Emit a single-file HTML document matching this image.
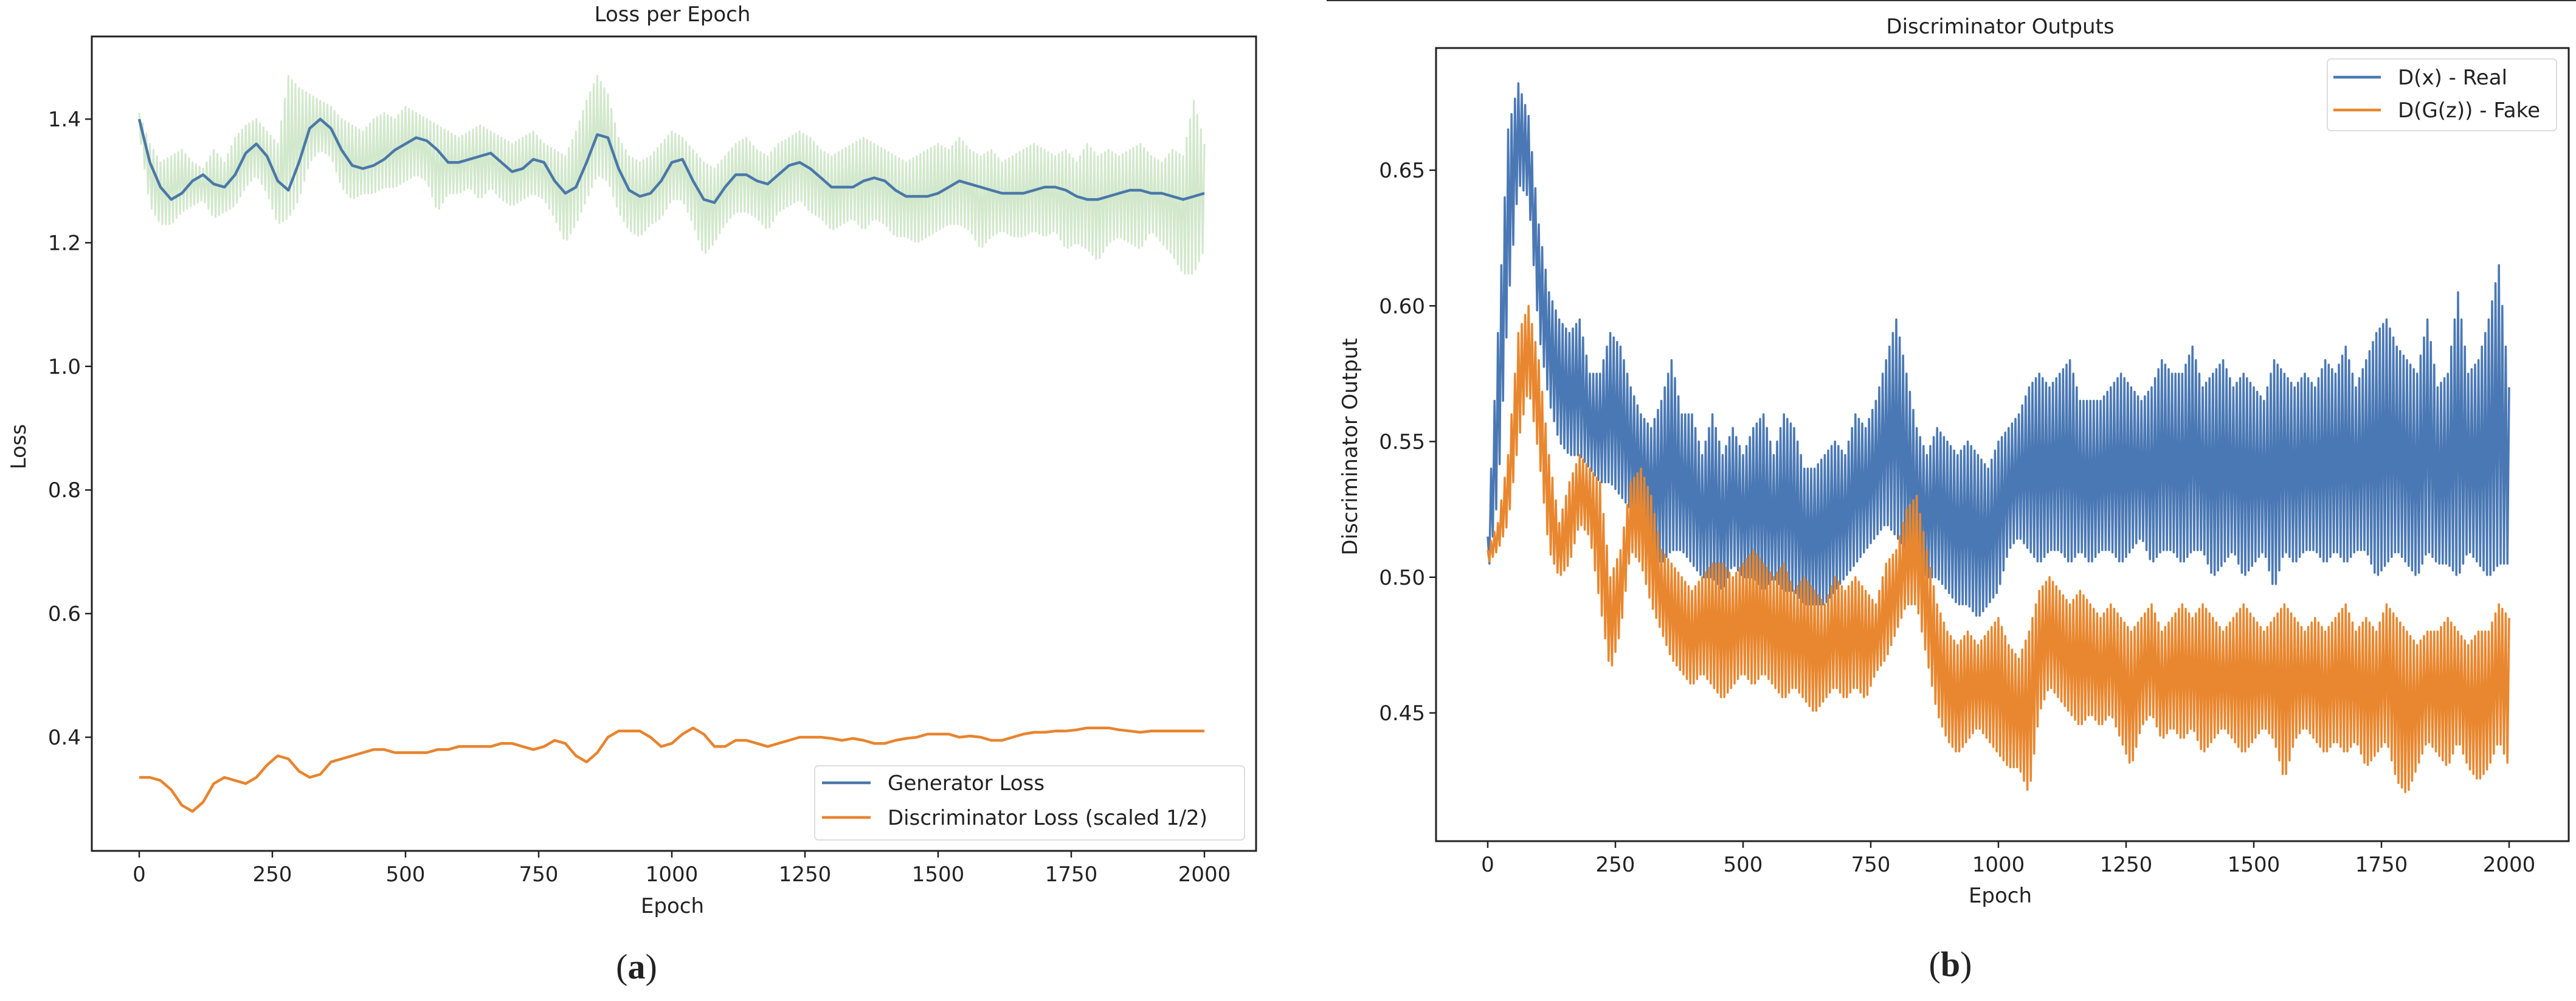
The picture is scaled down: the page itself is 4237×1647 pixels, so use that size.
<!DOCTYPE html>
<html><head><meta charset="utf-8"><style>
html,body{margin:0;padding:0;background:#fff;width:4237px;height:1647px;overflow:hidden}
svg{display:block}
text{font-family:"DejaVu Sans","Liberation Sans",sans-serif;fill:#222}
</style></head><body>
<svg id="fig" width="4237" height="1647" viewBox="0 0 4237 1647" xmlns="http://www.w3.org/2000/svg">
<line x1="2182" y1="1" x2="4237" y2="1" stroke="#333" stroke-width="2"/>
<g id="pa"></g>
<g id="pb"></g>
<text x="1047" y="1610" text-anchor="middle" style="font-family:'Liberation Serif',serif;font-size:58px" fill="#000">(<tspan font-weight="bold">a</tspan>)</text>
<text x="3208" y="1606" text-anchor="middle" style="font-family:'Liberation Serif',serif;font-size:58px" fill="#000">(<tspan font-weight="bold">b</tspan>)</text>
</svg>
<script>
// ---- data (epochs sampled every 20) ----
const epochStep = 20;
const xTicks = [0,250,500,750,1000,1250,1500,1750,2000];
const lossTicks = [0.4,0.6,0.8,1.0,1.2,1.4];
const lossTickLabels = ["0.4","0.6","0.8","1.0","1.2","1.4"];
const discTicks = [0.45,0.50,0.55,0.60,0.65];
const discTickLabels = ["0.45","0.50","0.55","0.60","0.65"];

const genSmooth = [1.40,1.33,1.29,1.27,1.28,1.30,1.31,1.295,1.29,1.31,1.345,1.36,1.34,1.30,1.285,1.33,1.385,1.40,1.385,1.35,1.325,1.32,1.325,1.335,1.35,1.36,1.37,1.365,1.35,1.33,1.33,1.335,1.34,1.345,1.33,1.315,1.32,1.335,1.33,1.30,1.28,1.29,1.33,1.375,1.37,1.32,1.285,1.275,1.28,1.30,1.33,1.335,1.30,1.27,1.265,1.29,1.31,1.31,1.30,1.295,1.31,1.325,1.33,1.32,1.305,1.29,1.29,1.29,1.30,1.305,1.30,1.285,1.275,1.275,1.275,1.28,1.29,1.30,1.295,1.29,1.285,1.28,1.28,1.28,1.285,1.29,1.29,1.285,1.275,1.27,1.27,1.275,1.28,1.285,1.285,1.28,1.28,1.275,1.27,1.275,1.28];
const genRawHi = [1.41,1.36,1.33,1.34,1.35,1.33,1.32,1.35,1.33,1.37,1.39,1.40,1.38,1.36,1.47,1.45,1.44,1.43,1.42,1.40,1.39,1.38,1.40,1.41,1.40,1.42,1.41,1.40,1.39,1.38,1.37,1.38,1.39,1.38,1.37,1.36,1.37,1.38,1.36,1.35,1.34,1.38,1.43,1.47,1.44,1.37,1.34,1.33,1.34,1.36,1.38,1.37,1.35,1.33,1.32,1.34,1.36,1.37,1.35,1.34,1.36,1.37,1.38,1.37,1.35,1.34,1.35,1.36,1.37,1.36,1.35,1.34,1.33,1.34,1.35,1.36,1.35,1.37,1.35,1.34,1.35,1.33,1.34,1.35,1.36,1.35,1.34,1.35,1.33,1.36,1.34,1.35,1.34,1.35,1.36,1.34,1.33,1.35,1.34,1.43,1.36];
const genRawLo = [1.38,1.26,1.23,1.23,1.25,1.26,1.27,1.24,1.25,1.26,1.29,1.31,1.28,1.23,1.24,1.27,1.33,1.35,1.34,1.29,1.27,1.28,1.28,1.29,1.29,1.30,1.31,1.30,1.25,1.28,1.28,1.29,1.27,1.29,1.27,1.26,1.27,1.28,1.27,1.24,1.20,1.23,1.27,1.31,1.30,1.25,1.22,1.21,1.23,1.24,1.27,1.27,1.23,1.18,1.20,1.23,1.25,1.25,1.24,1.22,1.25,1.26,1.27,1.25,1.24,1.22,1.23,1.24,1.22,1.24,1.23,1.21,1.21,1.20,1.21,1.22,1.23,1.23,1.22,1.19,1.21,1.22,1.21,1.21,1.22,1.21,1.22,1.19,1.20,1.19,1.17,1.20,1.21,1.20,1.19,1.22,1.20,1.18,1.15,1.15,1.19];
const discLoss = [0.335,0.335,0.33,0.315,0.29,0.28,0.295,0.325,0.335,0.33,0.325,0.335,0.355,0.37,0.365,0.345,0.335,0.34,0.36,0.365,0.37,0.375,0.38,0.38,0.375,0.375,0.375,0.375,0.38,0.38,0.385,0.385,0.385,0.385,0.39,0.39,0.385,0.38,0.385,0.395,0.39,0.37,0.36,0.375,0.40,0.41,0.41,0.41,0.40,0.385,0.39,0.405,0.415,0.405,0.385,0.385,0.395,0.395,0.39,0.385,0.39,0.395,0.40,0.40,0.40,0.398,0.395,0.398,0.395,0.39,0.39,0.395,0.398,0.40,0.405,0.405,0.405,0.40,0.402,0.40,0.395,0.395,0.40,0.405,0.408,0.408,0.41,0.41,0.412,0.415,0.415,0.415,0.412,0.41,0.408,0.41,0.41,0.41,0.41,0.41,0.41];

const realHi = [0.515,0.59,0.665,0.682,0.67,0.63,0.605,0.595,0.59,0.595,0.575,0.575,0.59,0.585,0.57,0.56,0.555,0.565,0.58,0.56,0.56,0.545,0.56,0.545,0.555,0.545,0.555,0.56,0.545,0.56,0.555,0.54,0.54,0.545,0.55,0.545,0.56,0.555,0.565,0.58,0.595,0.575,0.555,0.545,0.555,0.55,0.545,0.55,0.545,0.54,0.55,0.555,0.56,0.57,0.575,0.57,0.575,0.58,0.565,0.565,0.565,0.57,0.575,0.57,0.565,0.57,0.58,0.575,0.575,0.585,0.57,0.575,0.58,0.57,0.575,0.57,0.565,0.58,0.575,0.57,0.575,0.57,0.58,0.575,0.585,0.57,0.58,0.59,0.595,0.585,0.58,0.575,0.595,0.57,0.575,0.605,0.575,0.58,0.595,0.615,0.57];
const realLo = [0.50,0.53,0.60,0.645,0.64,0.59,0.565,0.55,0.545,0.545,0.54,0.535,0.535,0.53,0.525,0.52,0.51,0.505,0.51,0.51,0.505,0.50,0.50,0.495,0.505,0.50,0.50,0.495,0.50,0.495,0.495,0.49,0.49,0.49,0.495,0.50,0.505,0.51,0.515,0.52,0.515,0.51,0.505,0.50,0.50,0.495,0.49,0.49,0.485,0.49,0.495,0.51,0.515,0.51,0.505,0.51,0.51,0.505,0.51,0.505,0.51,0.51,0.505,0.51,0.515,0.505,0.51,0.51,0.505,0.51,0.51,0.50,0.505,0.51,0.50,0.505,0.51,0.495,0.51,0.505,0.51,0.51,0.505,0.51,0.505,0.51,0.51,0.50,0.505,0.51,0.505,0.50,0.51,0.505,0.505,0.50,0.51,0.505,0.50,0.505,0.505];
const fakeHi = [0.51,0.52,0.545,0.59,0.60,0.58,0.545,0.52,0.535,0.545,0.54,0.535,0.50,0.51,0.535,0.54,0.53,0.51,0.505,0.50,0.495,0.50,0.505,0.505,0.50,0.505,0.51,0.505,0.50,0.505,0.495,0.50,0.495,0.49,0.50,0.495,0.50,0.495,0.49,0.505,0.51,0.525,0.53,0.51,0.49,0.48,0.475,0.48,0.475,0.48,0.485,0.475,0.47,0.48,0.495,0.50,0.495,0.49,0.495,0.49,0.485,0.49,0.485,0.48,0.485,0.49,0.48,0.485,0.49,0.485,0.49,0.485,0.48,0.485,0.49,0.485,0.48,0.485,0.49,0.485,0.48,0.485,0.48,0.485,0.49,0.48,0.485,0.48,0.49,0.485,0.48,0.475,0.48,0.48,0.485,0.48,0.475,0.48,0.48,0.49,0.485];
const fakeLo = [0.505,0.51,0.52,0.55,0.57,0.545,0.51,0.50,0.505,0.52,0.515,0.49,0.465,0.48,0.51,0.505,0.49,0.48,0.47,0.465,0.46,0.465,0.46,0.455,0.46,0.465,0.46,0.465,0.46,0.455,0.46,0.455,0.45,0.455,0.46,0.455,0.46,0.455,0.465,0.47,0.48,0.49,0.49,0.47,0.45,0.44,0.435,0.44,0.445,0.44,0.435,0.43,0.43,0.42,0.45,0.46,0.455,0.45,0.445,0.45,0.445,0.45,0.44,0.43,0.445,0.45,0.44,0.445,0.44,0.445,0.435,0.44,0.445,0.44,0.435,0.44,0.445,0.44,0.425,0.44,0.445,0.44,0.435,0.44,0.435,0.44,0.43,0.435,0.44,0.425,0.42,0.43,0.44,0.435,0.43,0.44,0.43,0.425,0.43,0.44,0.43];

const NS="http://www.w3.org/2000/svg";
function mk(parent,tag,attrs){const e=document.createElementNS(NS,tag);for(const k in attrs)e.setAttribute(k,attrs[k]);parent.appendChild(e);return e;}

function drawAxes(g,cfg){
  const {L,R,T,B,xs,ys,yTicks,yLabels}=cfg;
  xTicks.forEach((t,i)=>{
    const x=xs(t);
    const tk=mk(g,'line',{x1:x,y1:B,x2:x,y2:B+11,stroke:'#222','stroke-width':2.5});
    
    
    const lb=mk(g,'text',{x:x,y:B+50,'text-anchor':'middle','font-size':34});
    lb.textContent=String(t);
    
    
  });
  yTicks.forEach((t,i)=>{
    const y=ys(t);
    const tk=mk(g,'line',{x1:L-11,y1:y,x2:L,y2:y,stroke:'#222','stroke-width':2.5});
    
    
    const lb=mk(g,'text',{x:L-18,y:y+12,'text-anchor':'end','font-size':34});
    lb.textContent=yLabels[i];
    
    
  });
}
function frame(g,L,R,T,B){
  const r=mk(g,'rect',{x:L,y:T,width:R-L,height:B-T,fill:'none',stroke:'#222','stroke-width':3});
  
  
}
function linePts(arr,xs,ys){return arr.map((v,i)=>xs(i*epochStep).toFixed(1)+','+ys(v).toFixed(1)).join(' ');}
// dense zig-zag between the sampled upper and lower envelopes
function zigPts(hi,lo,xs,ys,sub){
  const p=[];
  for(let i=0;i<hi.length-1;i++){
    for(let k=0;k<sub;k++){
      const f=k/sub;
      const h=hi[i]+(hi[i+1]-hi[i])*f, l=lo[i]+(lo[i+1]-lo[i])*f;
      const v=(k%2===0)?h:l;
      p.push(xs(i*epochStep+f*epochStep).toFixed(1)+','+ys(v).toFixed(1));
    }
  }
  p.push(xs((hi.length-1)*epochStep).toFixed(1)+','+ys(hi[hi.length-1]).toFixed(1));
  return p.join(' ');
}
function legend(g,x,y,w,h,rows,hx1,hx2,tx){
  const b=mk(g,'rect',{x:x,y:y,width:w,height:h,rx:6,fill:'#fff','fill-opacity':0.85,stroke:'#ddd','stroke-width':2});
  
  
  rows.forEach(r=>{
    const l=mk(g,'line',{x1:hx1,y1:r.y,x2:hx2,y2:r.y,stroke:r.c,'stroke-width':4.5});
    
    
    const t=mk(g,'text',{x:tx,y:r.y+12,'font-size':34});
    t.textContent=r.t;
    
    
  });
}

// ---- chart a ----
(function(){
  const g=document.getElementById('pa');
  const L=151,R=2066,T=60,B=1400;
  const xs=e=>229+e*(1981-229)/2000;
  const ys=v=>1213-(v-0.4)*(1213-196)/1.0;
  const green=mk(g,'polyline',{points:zigPts(genRawHi,genRawLo,xs,ys,6),fill:'none',stroke:'#d2e8cc','stroke-width':3,'stroke-linejoin':'round'});
  
  
  const gen=mk(g,'polyline',{points:linePts(genSmooth,xs,ys),fill:'none',stroke:'#4a78a8','stroke-width':4.5,'stroke-linejoin':'round'});
  
  
  const dl=mk(g,'polyline',{points:linePts(discLoss,xs,ys),fill:'none',stroke:'#e8842e','stroke-width':4.5,'stroke-linejoin':'round'});
  
  
  frame(g,L,R,T,B);
  drawAxes(g,{L,R,T,B,xs,ys,yTicks:lossTicks,yLabels:lossTickLabels});
  legend(g,1340,1260,707,122,[{y:1288,c:'#4a78a8',t:'Generator Loss'},{y:1345,c:'#e8842e',t:'Discriminator Loss (scaled 1/2)'}],1352,1432,1460);
  const t=mk(g,'text',{x:1106,y:35,'text-anchor':'middle','font-size':34});t.textContent='Loss per Epoch';
  
  
  const xl=mk(g,'text',{x:1106,y:1502,'text-anchor':'middle','font-size':34});xl.textContent='Epoch';
  
  
  const yl=mk(g,'text',{x:0,y:0,'text-anchor':'middle','font-size':34,transform:'translate(42,735) rotate(-90)'});yl.textContent='Loss';
  
  
})();

// ---- chart b ----
(function(){
  const g=document.getElementById('pb');
  const L=2362,R=4225,T=79,B=1384;
  const xs=e=>2447+e*(4127-2447)/2000;
  const ys=v=>1173-(v-0.45)*(1173-280)/0.2;
  const real=mk(g,'polyline',{points:zigPts(realHi,realLo,xs,ys,6),fill:'none',stroke:'#4a78b4','stroke-width':3.5,'stroke-linejoin':'round'});
  
  
  const fake=mk(g,'polyline',{points:zigPts(fakeHi,fakeLo,xs,ys,6),fill:'none',stroke:'#e8872f','stroke-width':3.5,'stroke-linejoin':'round'});
  
  
  frame(g,L,R,T,B);
  drawAxes(g,{L,R,T,B,xs,ys,yTicks:discTicks,yLabels:discTickLabels});
  legend(g,3828,97,377,118,[{y:127,c:'#4a78b4',t:'D(x) - Real'},{y:181,c:'#e8872f',t:'D(G(z)) - Fake'}],3838,3916,3944);
  const t=mk(g,'text',{x:3290,y:55,'text-anchor':'middle','font-size':34});t.textContent='Discriminator Outputs';
  
  
  const xl=mk(g,'text',{x:3290,y:1485,'text-anchor':'middle','font-size':34});xl.textContent='Epoch';
  
  
  const yl=mk(g,'text',{x:0,y:0,'text-anchor':'middle','font-size':34,transform:'translate(2232,735) rotate(-90)'});yl.textContent='Discriminator Output';
  
  
})();
</script>
</body></html>
